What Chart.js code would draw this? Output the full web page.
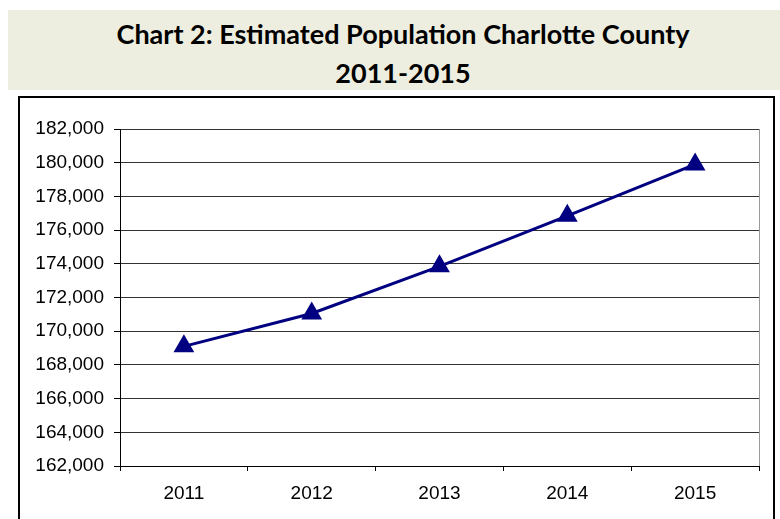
<!DOCTYPE html>
<html>
<head>
<meta charset="utf-8">
<script src="https://cdn.jsdelivr.net/npm/chart.js@4/dist/chart.umd.min.js"></script>
<style>
    body { margin: 0; background: #fff; width: 780px; height: 519px; overflow: hidden; position: relative; }
    .banner {
        position: absolute; left: 8px; top: 10px; width: 772px; height: 80px;
        background: #eeeee0;
        font-family: Lato, "Open Sans", sans-serif; font-weight: bold; font-size: 27px;
        color: #000; text-align: center; line-height: 39px;
        box-sizing: border-box; padding: 4px 0 0 18px;
    }
    .box {
        position: absolute; left: 18px; top: 96px; width: 753px; height: 440px;
        border: 2px solid #000;
    }
    .wrap { position: absolute; left: 0; top: 0; width: 780px; height: 519px; }
</style>
</head>
<body>
<div class="banner">Chart 2: Estimated Population Charlotte County<br>2011-2015</div>
<div class="box"></div>
<div class="wrap"><canvas id="myChart"></canvas></div>
<script>
const years = ['2011', '2012', '2013', '2014', '2015'];
const population = [169100, 171050, 173850, 176850, 179900];
const yMin = 162000;
const yMax = 182000;
const yStep = 2000;

const ctx = document.getElementById('myChart').getContext('2d');

const config = {
    type: 'line',
    data: {
        labels: years,
        datasets: [{
            label: 'Population',
            data: population,
            borderColor: '#000080',
            backgroundColor: '#000080',
            borderWidth: 3,
            pointStyle: 'triangle',
            pointRadius: 9,
            pointHoverRadius: 9,
            tension: 0
        }]
    },
    options: {
        responsive: true,
        maintainAspectRatio: false,
        animation: false,
        layout: { padding: { top: 129, right: 21, left: 0, bottom: 0 } },
        plugins: {
            legend: { display: false },
            tooltip: { enabled: false }
        },
        scales: {
            x: {
                offset: true,
                grid: {
                    offset: true,
                    drawOnChartArea: true,
                    color: (c) => c.index === undefined ? '#999' : 'rgba(0,0,0,0)',
                    tickColor: '#000',
                    tickLength: 5
                },
                border: { color: '#000', width: 1 },
                ticks: {
                    color: '#000',
                    padding: 11,
                    font: { family: '"Liberation Sans", Arial, sans-serif', size: 19 }
                },
                afterFit: (scale) => { scale.height = 53; }
            },
            y: {
                min: yMin,
                max: yMax,
                grid: {
                    color: '#333',
                    tickColor: '#000',
                    tickLength: 6
                },
                border: { color: '#000', width: 1 },
                ticks: {
                    stepSize: yStep,
                    color: '#000',
                    padding: 10,
                    font: { family: '"Liberation Sans", Arial, sans-serif', size: 19 },
                    callback: (v) => v.toLocaleString('en-US')
                },
                afterFit: (scale) => { scale.width = 120; }
            }
        }
    }
};

new Chart(ctx, config);
</script>
</body>
</html>
